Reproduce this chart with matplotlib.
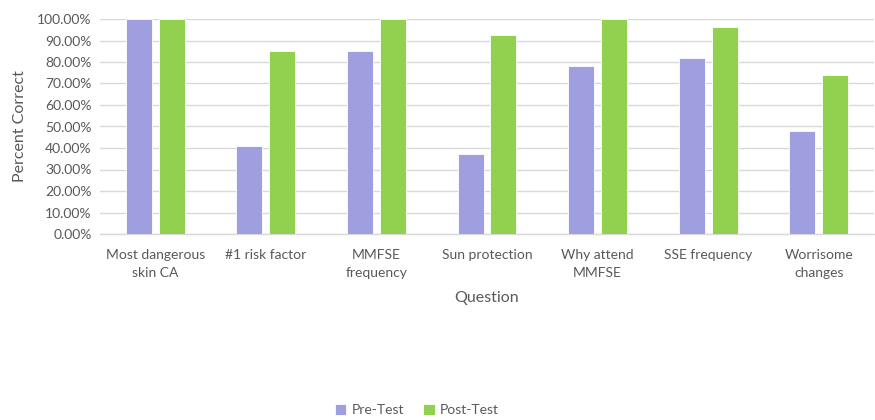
import matplotlib
matplotlib.use("Agg")
import matplotlib.pyplot as plt
import numpy as np
from matplotlib.ticker import FuncFormatter, MultipleLocator

questions = ["Most dangerous\nskin CA", "#1 risk factor", "MMFSE\nfrequency",
             "Sun protection", "Why attend\nMMFSE", "SSE frequency", "Worrisome\nchanges"]
pre_test = [1.00, 0.41, 0.85, 0.37, 0.78, 0.82, 0.48]
post_test = [1.00, 0.85, 1.00, 0.926, 1.00, 0.964, 0.738]

plt.rcParams["font.family"] = ["Lato", "DejaVu Sans"]
text_color = "#595959"
grid_color = "#d9d9d9"
pre_color = "#9f9fdf"
post_color = "#92d050"

fig = plt.figure(figsize=(8.75, 4.2), dpi=100)
ax = fig.add_axes([100 / 875, 1 - 234 / 420, 774 / 875, 215 / 420])

x = np.arange(len(questions))
w = 0.235
off = 0.149
ax.bar(x - off, pre_test, w, color=pre_color, edgecolor="white", linewidth=0.6,
       label="Pre-Test", zorder=3)
ax.bar(x + off, post_test, w, color=post_color, edgecolor="white", linewidth=0.6,
       label="Post-Test", zorder=3)

ax.set_xlim(-0.5, len(questions) - 0.5)
ax.set_ylim(0, 1.0)
ax.yaxis.set_major_locator(MultipleLocator(0.1))
ax.yaxis.set_major_formatter(FuncFormatter(lambda v, p: f"{v * 100:.2f}%"))
ax.grid(axis="y", color=grid_color, linewidth=1, zorder=0)
ax.set_axisbelow(True)

for s in ["top", "right", "left"]:
    ax.spines[s].set_visible(False)
ax.spines["bottom"].set_color(grid_color)
ax.spines["bottom"].set_linewidth(1)

ax.set_xticks(x)
ax.set_xticklabels(questions, va="top", linespacing=1.55)
ax.tick_params(axis="both", length=0, labelsize=10, labelcolor=text_color)
ax.tick_params(axis="x", pad=11)
ax.tick_params(axis="y", pad=6)

ax.set_xlabel("Question", fontsize=11.5, color=text_color, labelpad=9)
ax.set_ylabel("Percent Correct", fontsize=11.5, color=text_color, labelpad=7)

leg = fig.legend(loc="center", bbox_to_anchor=(417 / 875, 1 - 410 / 420), ncol=2,
                 frameon=False, fontsize=10, handlelength=0.8, handleheight=0.8,
                 handletextpad=0.4, columnspacing=1.4)
for t in leg.get_texts():
    t.set_color(text_color)

fig.savefig("out.png", dpi=100)
